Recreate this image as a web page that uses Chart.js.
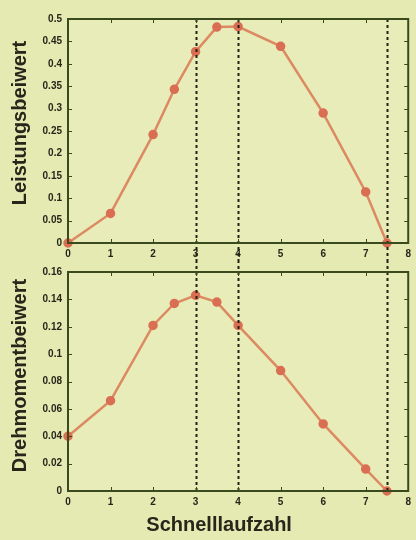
<!DOCTYPE html>
<html>
<head>
<meta charset="utf-8">
<script src="https://cdn.jsdelivr.net/npm/chart.js@4/dist/chart.umd.min.js"></script>
<style>
  html, body { margin: 0; padding: 0; background: #e5eab3; }
  #wrap { position: relative; width: 416px; height: 540px; }
  #c1 { position: absolute; left: 0; top: 0; }
  #c2 { position: absolute; left: 0; top: 260px; }
</style>
</head>
<body>
<div id="wrap">
  <canvas id="c1" width="416" height="260"></canvas>
  <canvas id="c2" width="416" height="280"></canvas>
</div>
<script>
// ---- data ----
const lambdaValues = [0, 1, 2, 2.5, 3, 3.5, 4, 5, 6, 7, 7.5];
const leistungsbeiwert = [0, 0.066, 0.242, 0.343, 0.427, 0.482, 0.483, 0.439, 0.29, 0.114, 0];
const drehmomentbeiwert = [0.04, 0.066, 0.121, 0.137, 0.143, 0.138, 0.121, 0.088, 0.049, 0.016, 0];
const markerLines = [3, 4, 7.5];
const xTitle = 'Schnelllaufzahl';
const yTitleTop = 'Leistungsbeiwert';
const yTitleBottom = 'Drehmomentbeiwert';

const FRAME = '#3b4a1c';
const LINE = '#dc8a62';
const POINT = '#da6e52';
const TEXT = '#26261a';
const PLOTBG = '#e8ecb9';
const TITLE_FONT = 'bold 20px "Liberation Sans", Arial, sans-serif';

const framePlugin = {
  id: 'frameAndMarkers',
  beforeDraw(chart) {
    const {ctx, chartArea: a} = chart;
    ctx.save();
    ctx.fillStyle = PLOTBG;
    ctx.fillRect(a.left, a.top, a.right - a.left, a.bottom - a.top);
    ctx.restore();
  },
  afterDatasetsDraw(chart, args, opts) {
    const {ctx, chartArea: a, scales} = chart;
    const xs = scales.x, ys = scales.y;
    ctx.save();
    // dashed marker lines
    ctx.strokeStyle = '#1e2214';
    ctx.lineWidth = 2;
    ctx.setLineDash([3, 3]);
    const y0 = opts.extendTop ? 0 : a.top;
    const y1 = opts.extendBottom ? chart.height : a.bottom;
    markerLines.forEach(v => {
      const px = Math.round(xs.getPixelForValue(v)) + 0.5;
      ctx.beginPath();
      ctx.moveTo(px, y0);
      ctx.lineTo(px, y1);
      ctx.stroke();
    });
    ctx.setLineDash([]);
    // frame
    ctx.strokeStyle = FRAME;
    ctx.lineWidth = 2;
    ctx.strokeRect(a.left, a.top, a.right - a.left, a.bottom - a.top);
    // inner ticks
    ctx.lineWidth = 1;
    const L = 4;
    xs.ticks.forEach(t => {
      const px = Math.round(xs.getPixelForValue(t.value)) + 0.5;
      ctx.beginPath();
      ctx.moveTo(px, a.bottom); ctx.lineTo(px, a.bottom - L);
      ctx.moveTo(px, a.top); ctx.lineTo(px, a.top + L);
      ctx.stroke();
    });
    ys.ticks.forEach(t => {
      const py = Math.round(ys.getPixelForValue(t.value)) + 0.5;
      ctx.beginPath();
      ctx.moveTo(a.left, py); ctx.lineTo(a.left + L, py);
      ctx.moveTo(a.right, py); ctx.lineTo(a.right - L, py);
      ctx.stroke();
    });
    ctx.restore();
  },
  afterDraw(chart, args, opts) {
    const {ctx, chartArea: a} = chart;
    ctx.save();
    ctx.fillStyle = TEXT;
    ctx.font = TITLE_FONT;
    ctx.textAlign = 'center';
    ctx.textBaseline = 'middle';
    // y-axis title
    ctx.save();
    ctx.translate(20, (a.top + a.bottom) / 2 + opts.yTitleShift);
    ctx.rotate(-Math.PI / 2);
    ctx.fillText(opts.yTitle, 0, 0);
    ctx.restore();
    // x-axis title
    if (opts.xTitle) {
      ctx.fillText(opts.xTitle, (a.left + a.right) / 2 - 19, chart.height - 15);
    }
    ctx.restore();
  }
};

function makeChart(canvasId, values, yMax, yStep, cfg) {
  const pts = lambdaValues.map((x, i) => ({x: x, y: values[i]}));
  return new Chart(document.getElementById(canvasId), {
    type: 'line',
    data: {
      datasets: [{
        data: pts,
        borderColor: LINE,
        borderWidth: 2.5,
        pointRadius: 3.5,
        pointBackgroundColor: POINT,
        pointBorderColor: POINT,
        tension: 0,
        clip: false
      }]
    },
    options: {
      responsive: false,
      animation: false,
      layout: { padding: { top: cfg.padTop, right: 6, left: 0, bottom: 0 } },
      plugins: {
        legend: { display: false },
        tooltip: { enabled: false },
        frameAndMarkers: {
          extendTop: cfg.extendTop, extendBottom: cfg.extendBottom,
          yTitle: cfg.yTitle, yTitleShift: cfg.yTitleShift, xTitle: cfg.xTitle
        }
      },
      scales: {
        x: {
          type: 'linear',
          min: 0, max: 8,
          ticks: { stepSize: 1, color: TEXT, padding: 5, font: { family: 'Liberation Sans, Arial, sans-serif', size: 10, weight: 'bold' } },
          grid: { display: false, drawTicks: false },
          border: { display: false },
          afterFit(s) { s.height = cfg.xHeight; }
        },
        y: {
          min: 0, max: yMax,
          ticks: {
            stepSize: yStep, color: TEXT, padding: 6,
            font: { family: 'Liberation Sans, Arial, sans-serif', size: 10, weight: 'bold' },
            callback: v => String(+v.toFixed(4))
          },
          grid: { display: false, drawTicks: false },
          border: { display: false },
          afterFit(s) { s.width = 68; }
        }
      }
    },
    plugins: [framePlugin]
  });
}

makeChart('c1', leistungsbeiwert, 0.5, 0.05,
  { padTop: 19, xHeight: 17, extendTop: false, extendBottom: true, xTitle: null, yTitle: yTitleTop, yTitleShift: -8 });
makeChart('c2', drehmomentbeiwert, 0.16, 0.02,
  { padTop: 6, xHeight: 49, extendTop: true, extendBottom: false, xTitle: xTitle, yTitle: yTitleBottom, yTitleShift: -6 });
</script>
</body>
</html>
